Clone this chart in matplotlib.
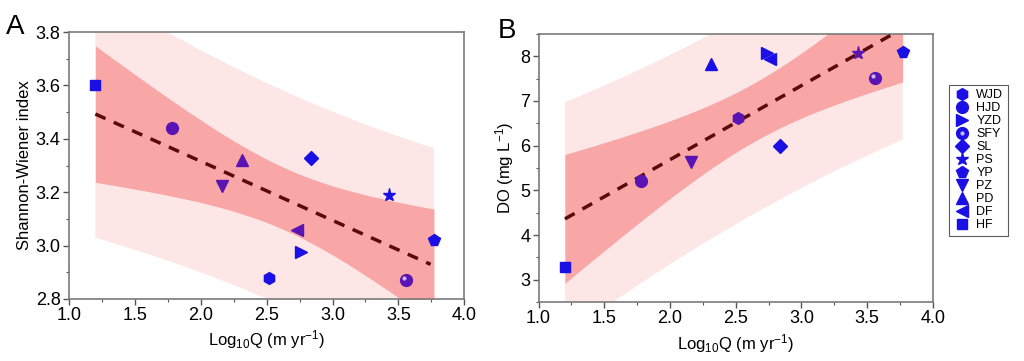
import numpy as np
import matplotlib
matplotlib.use("Agg")
import matplotlib.pyplot as plt
from matplotlib.lines import Line2D
from matplotlib.legend_handler import HandlerTuple
from matplotlib.ticker import MultipleLocator
from matplotlib.transforms import ScaledTranslation

plt.rcParams['font.family'] = ['Liberation Sans', 'DejaVu Sans']
plt.rcParams['mathtext.default'] = 'regular'

# ---- data ----
sites = ["WJD", "HJD", "YZD", "SFY", "SL", "PS", "YP", "PZ", "PD", "DF", "HF"]
markers = ["h", "o", ">", "o", "D", "*", "p", "v", "^", "<", "s"]
logq = [2.52, 1.78, 2.76, 3.56, 2.84, 3.43, 3.77, 2.16, 2.31, 2.73, 1.20]
shannon = [2.88, 3.44, 2.975, 2.87, 3.33, 3.19, 3.02, 3.225, 3.32, 3.06, 3.60]
do_vals = [6.63, 5.22, 8.08, 7.51, 5.99, 8.08, 8.10, 5.63, 7.83, 7.93, 3.28]
logq_b = [2.52, 1.78, 2.74, 3.56, 2.84, 3.43, 3.77, 2.16, 2.31, 2.76, 1.20]

blue = "#1a10e6"
purple = "#5a14b4"
colors_a = [blue, purple, blue, purple, blue, blue, blue, purple, purple, purple, blue]
colors_b = [purple, purple, blue, purple, blue, purple, blue, purple, blue, blue, blue]
msizes = [8.5, 8.5, 8.5, 8.5, 7.5, 9.5, 8.5, 8.5, 8.5, 8.5, 7]

T975 = 2.262  # t(0.975, df=9)


def draw_panel(ax, x, y, cols):
    x = np.asarray(x)
    y = np.asarray(y)
    n = len(x)
    b, a = np.polyfit(x, y, 1)
    xs = np.linspace(x.min(), x.max(), 200)
    ys = a + b * xs
    resid = y - (a + b * x)
    s = np.sqrt(np.sum(resid ** 2) / (n - 2))
    sxx = np.sum((x - x.mean()) ** 2)
    ci = T975 * s * np.sqrt(1 / n + (xs - x.mean()) ** 2 / sxx)
    pi = T975 * s * np.sqrt(1 + 1 / n + (xs - x.mean()) ** 2 / sxx)
    ax.fill_between(xs, ys - pi, ys + pi, color="#fde6e6", lw=0, zorder=1)
    ax.fill_between(xs, ys - ci, ys + ci, color="#f8a6a6", lw=0, zorder=2)
    ax.plot(xs[xs <= 3.75], ys[xs <= 3.75], color="#5a0a0a", lw=2.5,
            dashes=(3.2, 2.6), zorder=3)
    shift = ScaledTranslation(-1.5 / 72, 1.5 / 72, ax.figure.dpi_scale_trans)
    for xi, yi, m, c, ms, name in zip(x, y, markers, cols, msizes, sites):
        ax.plot(xi, yi, marker=m, color=c, ms=ms, ls="none", zorder=4)
        if name == "SFY":
            ax.plot(xi, yi, marker="o", color="#c8b8f0", ms=3, ls="none",
                    zorder=5, markeredgewidth=0, transform=ax.transData + shift)

    ax.set_xlim(1.0, 4.0)
    ax.xaxis.set_major_locator(MultipleLocator(0.5))
    ax.xaxis.set_minor_locator(MultipleLocator(0.25))
    ax.set_xlabel("Log$_{10}$Q (m yr$^{-1}$)", fontsize=12, labelpad=3)
    for sp in ax.spines.values():
        sp.set_color("#7a7a7a")
        sp.set_linewidth(1.2)
    ax.tick_params(which="major", length=4, width=1, color="#555555",
                   labelsize=13, pad=2)
    ax.tick_params(which="minor", length=2.5, width=0.8, color="#555555")


fig = plt.figure(figsize=(10.24, 3.61), dpi=100)
ax1 = fig.add_axes([0.0674, 0.172, 0.386, 0.739])
ax2 = fig.add_axes([0.526, 0.163, 0.385, 0.743])

draw_panel(ax1, logq, shannon, colors_a)
ax1.set_ylim(2.8, 3.8)
ax1.yaxis.set_major_locator(MultipleLocator(0.2))
ax1.yaxis.set_minor_locator(MultipleLocator(0.1))
ax1.set_ylabel("Shannon-Wiener index", fontsize=12, labelpad=3)

draw_panel(ax2, logq_b, do_vals, colors_b)
ax2.set_ylim(2.5, 8.5)
ax2.yaxis.set_major_locator(MultipleLocator(1))
ax2.yaxis.set_minor_locator(MultipleLocator(0.5))
ax2.set_ylabel("DO (mg L$^{-1}$)", fontsize=12, labelpad=3)

fig.text(0.006, 0.905, "A", fontsize=20)
fig.text(0.486, 0.895, "B", fontsize=20)

handles = []
for m, ms, name in zip(markers, msizes, sites):
    h = Line2D([], [], marker=m, color=blue, ms=ms, ls="none")
    if name == "SFY":
        hl = Line2D([], [], marker="o", color="#c8b8f0", ms=3, ls="none",
                    markeredgewidth=0)
        h = (h, hl)
    handles.append(h)
leg = fig.legend(handles, sites, loc="upper left", bbox_to_anchor=(0.921, 0.782),
                 fontsize=9, frameon=True, fancybox=False, edgecolor="#333333",
                 handlelength=1.3, handletextpad=0.5, labelspacing=0.08,
                 borderpad=0.35, handler_map={tuple: HandlerTuple(ndivide=1)})
leg.get_frame().set_linewidth(0.8)

fig.savefig("out.png", dpi=100)
